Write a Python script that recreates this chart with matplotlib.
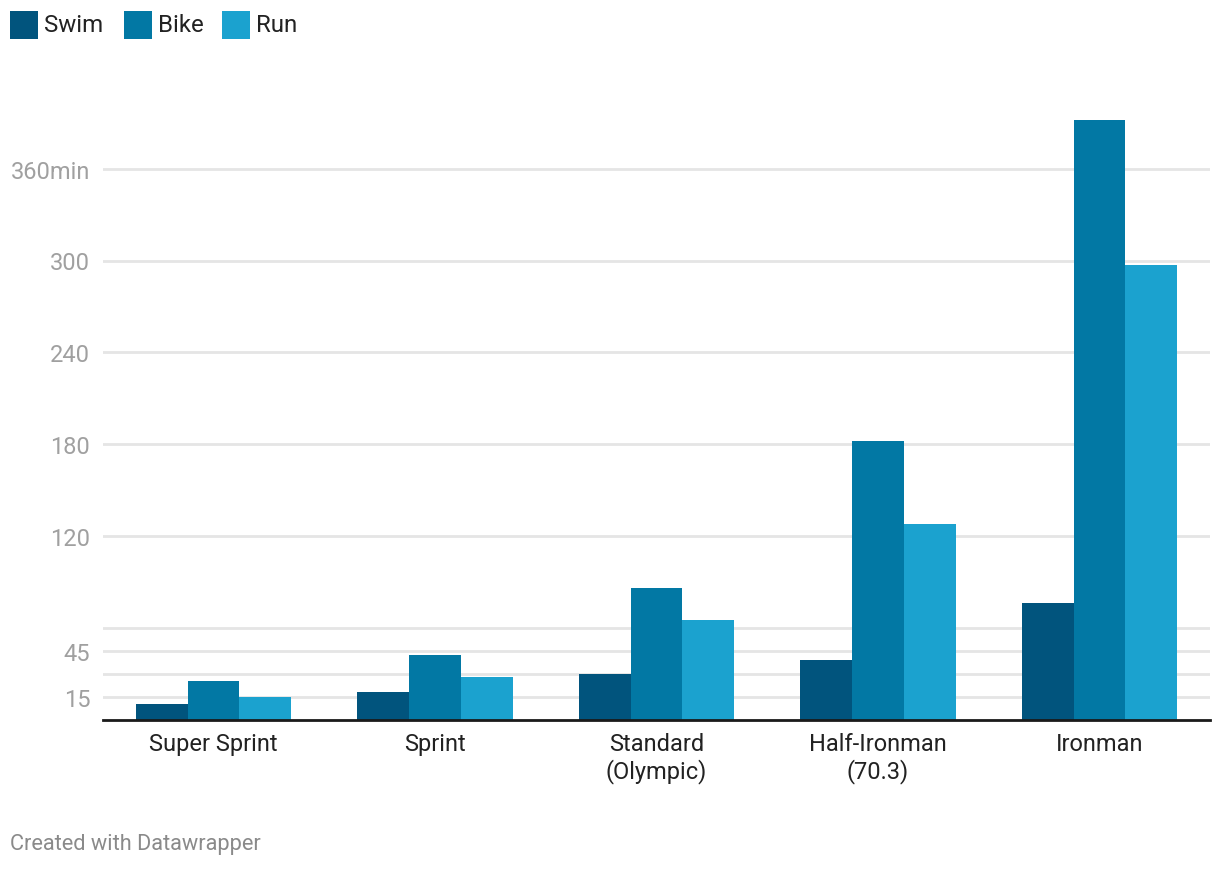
import matplotlib
matplotlib.use("Agg")
import matplotlib.pyplot as plt
import numpy as np
from matplotlib.patches import Rectangle

plt.rcParams['font.family'] = ['Roboto', 'DejaVu Sans']

categories = ["Super Sprint", "Sprint", "Standard\n(Olympic)", "Half-Ironman\n(70.3)", "Ironman"]
series_names = ["Swim", "Bike", "Run"]
swim = [10, 18, 30, 39, 76]
bike = [25, 42, 86, 182, 392]
run = [15, 28, 65, 128, 297]
ytick_values = [15, 45, 120, 180, 240, 300, 360]
ytick_labels = ["15", "45", "120", "180", "240", "300", "360min"]
minor_grid = [30, 60]

colors = ["#01547d", "#0278a4", "#1ba2cf"]

W, H = 1220, 870
fig = plt.figure(figsize=(W / 100, H / 100), dpi=100)

left_px, right_px = 102.75, 1210.25
bottom_px, top_px = 720.5, 108
ax = fig.add_axes([left_px / W, 1 - bottom_px / H, (right_px - left_px) / W, (bottom_px - top_px) / H])

x = np.arange(len(categories))
bw = 0.7 / 3
for i, (vals, c) in enumerate(zip([swim, bike, run], colors)):
    ax.bar(x + (i - 1) * bw, vals, width=bw, color=c, linewidth=0, zorder=3)

ax.set_xlim(-0.5, len(categories) - 0.5)
ax.set_ylim(0, (bottom_px - top_px) / 1.53)

ax.set_yticks(ytick_values)
ax.set_yticklabels(ytick_labels)
ax.set_yticks(minor_grid, minor=True)
ax.grid(axis='y', which='both', color='#e5e5e5', linewidth=2, zorder=0)
ax.tick_params(axis='y', which='both', length=0, pad=9, labelsize=17, labelcolor='#a0a0a0')

ax.set_xticks(x)
ax.set_xticklabels(categories, linespacing=1.15)
ax.tick_params(axis='x', length=0, pad=9, labelsize=17, labelcolor='#222222')

for s in ['top', 'right', 'left']:
    ax.spines[s].set_visible(False)
ax.spines['bottom'].set_color('#1a1a1a')
ax.spines['bottom'].set_linewidth(2)
ax.spines['bottom'].set_zorder(4)

# legend
leg_x = [10, 124, 222]
for name, c, lx in zip(series_names, colors, leg_x):
    fig.patches.append(Rectangle((lx / W, 1 - 40 / H), 28 / W, 28 / H,
                                 transform=fig.transFigure, color=c, linewidth=0))
    fig.text((lx + 34) / W, 1 - 26 / H, name, fontsize=17.3, color='#222222',
             va='center', ha='left')

fig.text(10 / W, 1 - 845 / H, "Created with Datawrapper", fontsize=15.7,
         color='#8a8a8a', va='center', ha='left')

fig.savefig("out.png", dpi=100, facecolor='white')
